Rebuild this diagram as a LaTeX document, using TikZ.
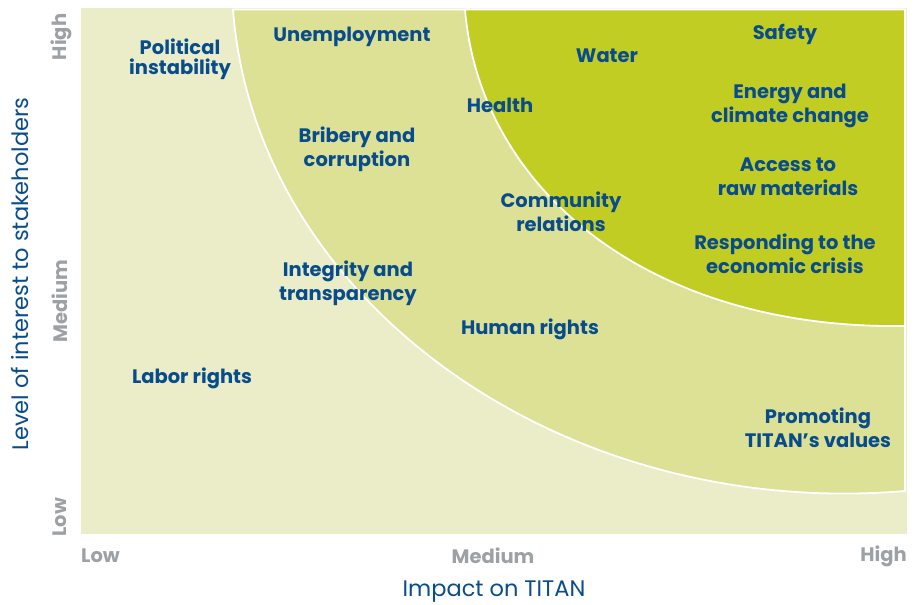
\documentclass[tikz,border=0pt]{standalone}
\usepackage{fontspec}
\setmainfont{Poppins}
\begin{document}
\begin{tikzpicture}[x=1pt,y=-1pt]
\definecolor{bgA}{RGB}{234,237,199}
\definecolor{bgB}{RGB}{220,225,150}
\definecolor{bgC}{RGB}{194,205,35}
\definecolor{tblue}{RGB}{8,76,140}
\definecolor{tgray}{RGB}{156,161,166}
\tikzset{
  lab/.style={text=tblue, font=\bfseries\fontsize{19.5}{24}\selectfont, align=center, inner sep=0pt},
  ax/.style={text=tgray, font=\bfseries\fontsize{19.5}{22}\selectfont, inner sep=0pt},
  ttl/.style={text=tblue, font=\fontsize{22.5}{26}\selectfont, inner sep=0pt},
  band/.style={draw=white, line width=1.8pt, line join=round}
}
\useasboundingbox (0,0) rectangle (922,605);
% background plane
\fill[bgA] (81,8) rectangle (907,534);
% medium band
\path[band, fill=bgB] (233,9.5) .. controls (255,300) and (560,520) .. (905,491) -- (905,9.5) -- cycle;
% high band
\path[band, fill=bgC] (465,9.5) .. controls (480,190) and (650,330) .. (905,326) -- (905,9.5) -- cycle;
% topic labels
\node[lab, font=\bfseries\fontsize{19.5}{20}\selectfont] (political) at (180,59) {Political\\instability};
\node[lab] (unemp) at (352,37) {Unemployment};
\node[lab] (water) at (607,56) {Water};
\node[lab] (safety) at (785,34) {Safety};
\node[lab] (health) at (500,105) {Health};
\node[lab] (energy) at (790,106) {Energy and\\climate change};
\node[lab] (bribery) at (357,149) {Bribery and\\corruption};
\node[lab] (access) at (788,177) {Access to\\raw materials};
\node[lab] (community) at (561,212) {Community\\relations};
\node[lab] (crisis) at (785,254) {Responding to the\\economic crisis};
\node[lab] (integrity) at (348,283) {Integrity and\\transparency};
\node[lab] (human) at (530,329) {Human rights};
\node[lab] (labor) at (192,378) {Labor rights};
\node[lab] (values) at (818,428) {Promoting\\TITAN’s values};
% axis scale labels
\node[ax, rotate=90] (yhigh) at (61,37) {High};
\node[ax, rotate=90] (ymed) at (60,301) {Medium};
\node[ax, rotate=90] (ylow) at (60,517) {Low};
\node[ax, anchor=west] (xlow) at (81,556) {Low};
\node[ax] (xmed) at (493,556) {Medium};
\node[ax, anchor=east] (xhigh) at (907,556) {High};
% axis titles
\node[ttl] (xtitle) at (494,592) {Impact on TITAN};
\node[ttl, rotate=90] (ytitle) at (20,274) {Level of interest to stakeholders};
\end{tikzpicture}
\end{document}
